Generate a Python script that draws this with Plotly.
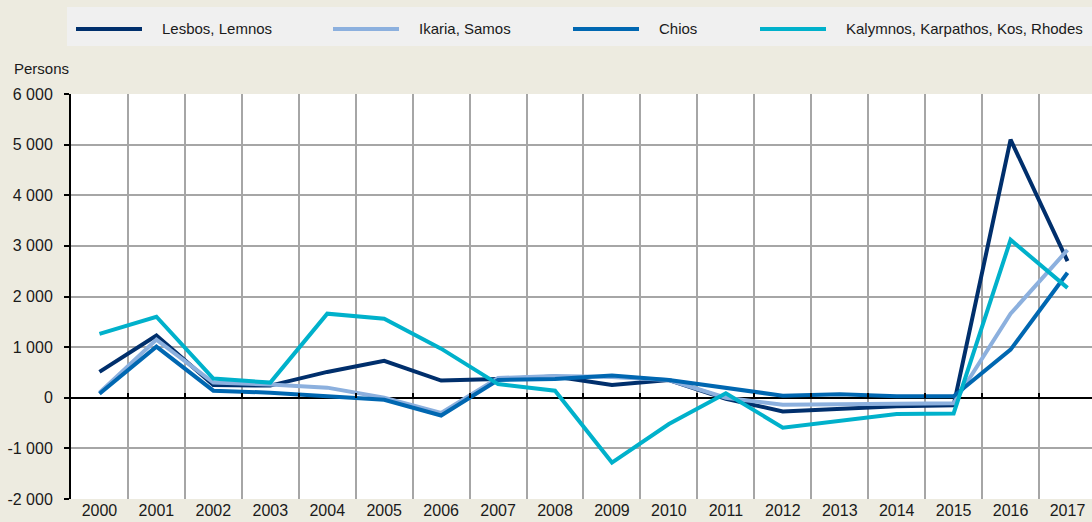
import plotly.graph_objects as go

years = list(range(2000, 2018))

series_names = ["Lesbos, Lemnos", "Ikaria, Samos", "Chios",
                "Kalymnos, Karpathos, Kos, Rhodes"]
series_colors = ["#002F6C", "#8CB0DE", "#0067B1", "#00B1CB"]

lesbos = [510, 1230, 250, 240, 510, 730, 340, 370, 420, 250, 350, -20, -270, -230, -170, -150, 5100, 2700]
ikaria = [100, 1150, 300, 260, 200, 0, -300, 390, 430, 410, 350, 0, -140, -130, -120, -110, 1660, 2920]
chios = [80, 1010, 140, 100, 30, -40, -350, 350, 370, 440, 350, 200, 40, 70, 30, 30, 950, 2470]
kalymnos = [1260, 1600, 380, 300, 1660, 1560, 970, 270, 140, -1280, -520, 90, -590, -450, -320, -310, 3120, 2170]

y_ticks = [-2000, -1000, 0, 1000, 2000, 3000, 4000, 5000, 6000]
y_labels = ["-2 000", "-1 000", "0", "1 000", "2 000", "3 000", "4 000", "5 000", "6 000"]

FONT = "Liberation Sans, Arial, sans-serif"
W, H = 1092, 522
L, T, B = 71, 94, 23
PW, PH = W - L, H - T - B


def px(x):
    return (x - L) / PW


def py(y):
    return (H - B - y) / PH


fig = go.Figure()
for name, vals, col in zip(series_names, [lesbos, ikaria, chios, kalymnos], series_colors):
    fig.add_trace(go.Scatter(x=years, y=vals, mode="lines", name=name,
                             line=dict(color=col, width=4), showlegend=False))

half = [y + 0.5 for y in range(1999, 2018)]
xr = [1999.5, 2017.43]

fig.update_layout(
    width=W, height=H,
    margin=dict(l=L, r=0, t=T, b=B, autoexpand=False),
    paper_bgcolor="#EDEBE0",
    plot_bgcolor="white",
    font=dict(family=FONT, size=16, color="#1a1a1a"),
    xaxis=dict(range=xr, tickvals=years, ticktext=[str(y) for y in years],
               showgrid=False, zeroline=False, showline=False, ticks="", automargin=False,
               minor=dict(tickvals=half, showgrid=True, gridcolor="#A6A6A6", gridwidth=1.5)),
    xaxis2=dict(range=xr, overlaying="x", anchor="free", position=0.25,
                tickvals=half, ticks="inside", ticklen=5, tickwidth=2, tickcolor="black",
                showticklabels=False, showgrid=False, zeroline=False, showline=False,
                automargin=False),
    yaxis=dict(range=[-2000, 6000], tickvals=y_ticks, ticktext=y_labels, automargin=False,
               showgrid=True, gridcolor="#A6A6A6", gridwidth=1.5,
               zeroline=True, zerolinecolor="black", zerolinewidth=2,
               showline=True, linecolor="black", linewidth=2,
               ticks="outside", ticklen=5, tickwidth=2, tickcolor="black",
               ticklabelstandoff=8),
)

# invisible trace so xaxis2 (tick marks on the zero line) gets drawn
fig.add_trace(go.Scatter(x=[2000], y=[0], xaxis="x2", mode="markers",
                         marker=dict(opacity=0), showlegend=False, hoverinfo="skip"))

# legend box drawn by hand to match the uneven spacing
fig.add_shape(type="rect", xref="paper", yref="paper",
              x0=px(67), x1=px(1092), y0=py(46), y1=py(7),
              fillcolor="#F0F0F0", line=dict(width=0), layer="below")
line_starts = [76, 333, 573, 760]
for name, col, x0 in zip(series_names, series_colors, line_starts):
    fig.add_shape(type="line", xref="paper", yref="paper",
                  x0=px(x0), x1=px(x0 + 66), y0=py(29), y1=py(29),
                  line=dict(color=col, width=4))
    fig.add_annotation(text=name, xref="paper", yref="paper",
                       x=px(x0 + 84), y=py(29), xanchor="left", yanchor="middle",
                       showarrow=False, font=dict(size=15))

fig.add_annotation(text="Persons", xref="paper", yref="paper",
                   x=px(12), y=py(69), xanchor="left", yanchor="middle",
                   showarrow=False, font=dict(size=15))

# drop the browser's default body margin so the figure sits at the window's corner
fig.write_html("out.html", config={"displayModeBar": False},
               post_script="document.body.style.margin='0';")
